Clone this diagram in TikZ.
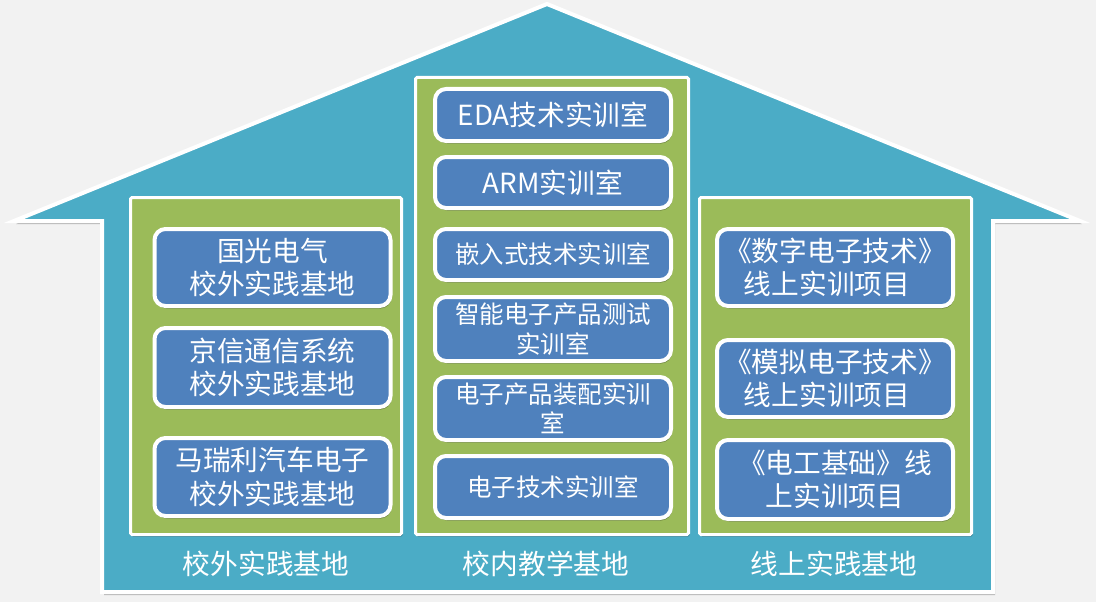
\documentclass[tikz,border=0pt]{standalone}
\usepackage{fontspec}
\setmainfont{Noto Sans CJK SC}
\usetikzlibrary{shadows}
\definecolor{bgC}{HTML}{F2F2F2}
\definecolor{houseC}{HTML}{4BACC6}
\definecolor{greenC}{HTML}{9BBB59}
\definecolor{blueC}{HTML}{4F81BD}
\begin{document}
\begin{tikzpicture}[x=1pt,y=-1pt,
  housest/.style={fill=houseC, draw=white, line width=4pt, line join=miter,
    drop shadow={shadow xshift=2pt, shadow yshift=-3pt, opacity=0.25, fill=black}},
  zone/.style={fill=greenC, draw=white, line width=3pt, rounded corners=1.5pt, inner sep=0pt,
    drop shadow={shadow xshift=1pt, shadow yshift=-2pt, opacity=0.3, fill=black}},
  room/.style={fill=blueC, draw=white, line width=4pt, rounded corners=11pt, text=white,
    align=center, inner sep=0pt, minimum width=236pt,
    drop shadow={shadow xshift=1pt, shadow yshift=-2.5pt, opacity=0.3, fill=black}},
  fbig/.style={font=\fontsize{27.7pt}{33.5pt}\selectfont},
  fsmall/.style={font=\fontsize{24.5pt}{29.5pt}\selectfont},
  lab/.style={text=white, font=\fontsize{27.7pt}{33pt}\selectfont, inner sep=0pt}]
\useasboundingbox (0,0) rectangle (1096,602);
\fill[bgC] (0,0) rectangle (1096,602);
% house
\path[housest] (547,4) -- (14,221) -- (102,221) -- (102,592) -- (993,592) -- (993,221) -- (1080,221) -- cycle;
% zones
\node[zone, minimum width=271pt, minimum height=337pt] (zl) at (266,366) {};
\node[zone, minimum width=273pt, minimum height=457pt] (zm) at (552,306) {};
\node[zone, minimum width=272pt, minimum height=337pt] (zr) at (835.5,366) {};
% left rooms
\node[room, fbig, minimum height=77pt] (l1) at (272.5,267.5) {国光电气\\校外实践基地};
\node[room, fbig, minimum height=79pt] (l2) at (272.5,367.5) {京信通信系统\\校外实践基地};
\node[room, fbig, minimum height=78pt] (l3) at (272.5,477) {马瑞利汽车电子\\校外实践基地};
% middle rooms
\node[room, fbig, minimum height=52pt] (m1) at (553,115) {EDA技术实训室};
\node[room, fbig, minimum height=51pt] (m2) at (553,182.5) {ARM实训室};
\node[room, fsmall, minimum height=51pt] (m3) at (553,254.5) {嵌入式技术实训室};
\node[room, fsmall, minimum height=64pt] (m4) at (553,329) {智能电子产品测试\\实训室};
\node[room, fsmall, minimum height=63pt] (m5) at (553,408.5) {电子产品装配实训\\室};
\node[room, fsmall, minimum height=62pt] (m6) at (553,487) {电子技术实训室};
% right rooms
\node[room, fbig, minimum height=77pt] (r1) at (835,267.5) {《数字电子技术》\\线上实训项目\hspace*{16pt}};
\node[room, fbig, minimum height=77pt] (r2) at (835,378.5) {《模拟电子技术》\\线上实训项目\hspace*{16pt}};
\node[room, fbig, minimum height=79pt] (r3) at (835,479.5) {《电工基础》线\\上实训项目};
% labels
\node[lab] (tl) at (266,564) {校外实践基地};
\node[lab] (tm) at (546,564) {校内教学基地};
\node[lab] (tr) at (834,564) {线上实践基地};
\end{tikzpicture}
\end{document}
